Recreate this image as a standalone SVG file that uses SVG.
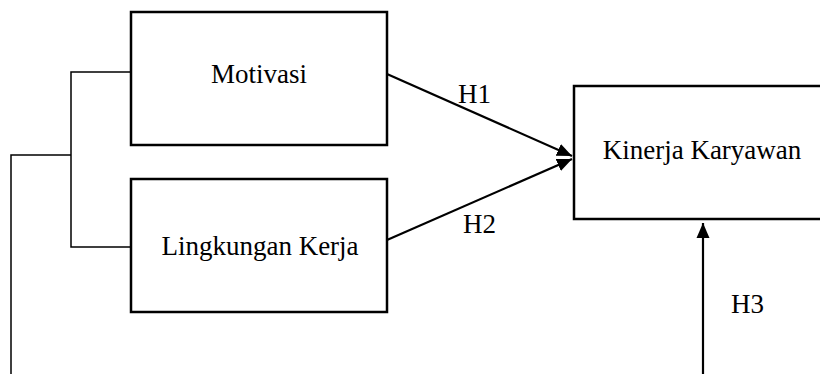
<svg xmlns="http://www.w3.org/2000/svg" width="820" height="374" viewBox="0 0 820 374">
<defs>
<style>
.box{fill:#fff;stroke:#000;stroke-width:2.5}
.lbl{font-family:"Liberation Serif","Times New Roman",serif;font-size:27px;fill:#000}
.ln{fill:none;stroke:#000;stroke-width:1.5}
.ar{fill:none;stroke:#000;stroke-width:2.2}
</style>
<marker id="ah" markerUnits="userSpaceOnUse" markerWidth="16" markerHeight="16" viewBox="0 0 16 16" refX="15" refY="8" orient="auto">
<path d="M0,1.5 L15,8 L0,14.5 Z" fill="#000"/>
</marker>
</defs>
<rect width="820" height="374" fill="#fff"/>
<g id="connectors">
<polyline class="ln" points="131,72 71,72 71,247 131,247"/>
<polyline class="ln" points="71,155 11,155 11,374"/>
<line class="ar" x1="387" y1="74" x2="572" y2="156" marker-end="url(#ah)"/>
<line class="ar" x1="387" y1="240" x2="572" y2="159" marker-end="url(#ah)"/>
<line class="ar" x1="703" y1="374" x2="703" y2="223" marker-end="url(#ah)"/>
<text class="lbl" x="458" y="103">H1</text>
<text class="lbl" x="463" y="233">H2</text>
<text class="lbl" x="731" y="313">H3</text>
</g>
<g id="motivasi">
<rect class="box" x="131" y="12" width="256" height="133"/>
<text class="lbl" x="259" y="83" text-anchor="middle">Motivasi</text>
</g>
<g id="lingkungan-kerja">
<rect class="box" x="131" y="179" width="256" height="133"/>
<text class="lbl" x="260" y="255" text-anchor="middle">Lingkungan Kerja</text>
</g>
<g id="kinerja-karyawan">
<rect class="box" x="574" y="86" width="260" height="133"/>
<text class="lbl" x="702" y="159" text-anchor="middle">Kinerja Karyawan</text>
</g>
</svg>
